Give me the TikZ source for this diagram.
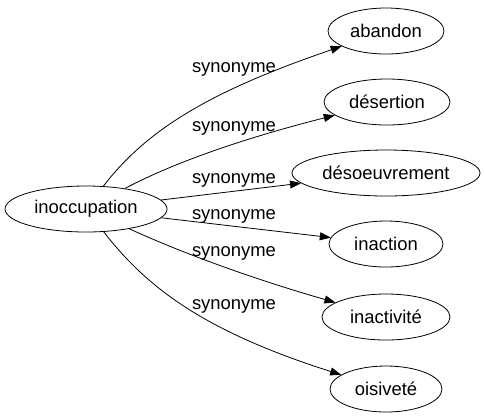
\documentclass[tikz,border=0pt]{standalone}
\usepackage{fontspec}
\setmainfont{Liberation Sans}
\usetikzlibrary{shapes.geometric,arrows.meta}
\tikzstyle{nd}=[ellipse,draw=black,line width=.8bp,minimum height=46bp,inner sep=0pt,font=\fontsize{18.5}{22}\selectfont]
\tikzstyle{lbl}=[anchor=base,inner sep=0pt,font=\fontsize{18.5}{22}\selectfont]
\tikzstyle{syn}=[line width=.8bp,-{Triangle[length=11bp,width=8bp]}]

\begin{document}
\begin{tikzpicture}[x=1bp,y=-1bp]
\useasboundingbox (0,0) rectangle (485,419);
\node[nd,minimum width=162bp] (inoccupation) at (86,209) {inoccupation};
\node[nd,minimum width=116bp] (abandon) at (386,31) {abandon};
\node[nd,minimum width=126bp] (desertion) at (387,102) {désertion};
\node[nd,minimum width=188bp] (desoeuvrement) at (386,173) {désoeuvrement};
\node[nd,minimum width=114bp] (inaction) at (386,244) {inaction};
\node[nd,minimum width=128bp] (inactivite) at (386,317) {inactivité};
\node[nd,minimum width=112bp] (oisivete) at (386,389) {oisiveté};
\draw[syn] (inoccupation) .. controls (150,125) and (220,88) .. (abandon);
\draw[syn] (inoccupation) .. controls (175,162) and (245,138) .. (desertion);
\draw[syn] (inoccupation) -- (desoeuvrement);
\draw[syn] (inoccupation) -- (inaction);
\draw[syn] (inoccupation) .. controls (180,252) and (250,278) .. (inactivite);
\draw[syn] (inoccupation) .. controls (145,285) and (200,330) .. (oisivete);
\node[lbl] (s1) at (234,72) {synonyme};
\node[lbl] (s2) at (234,131) {synonyme};
\node[lbl] (s3) at (234,183) {synonyme};
\node[lbl] (s4) at (234,219) {synonyme};
\node[lbl] (s5) at (234,256) {synonyme};
\node[lbl] (s6) at (234,309) {synonyme};
\end{tikzpicture}
\end{document}
